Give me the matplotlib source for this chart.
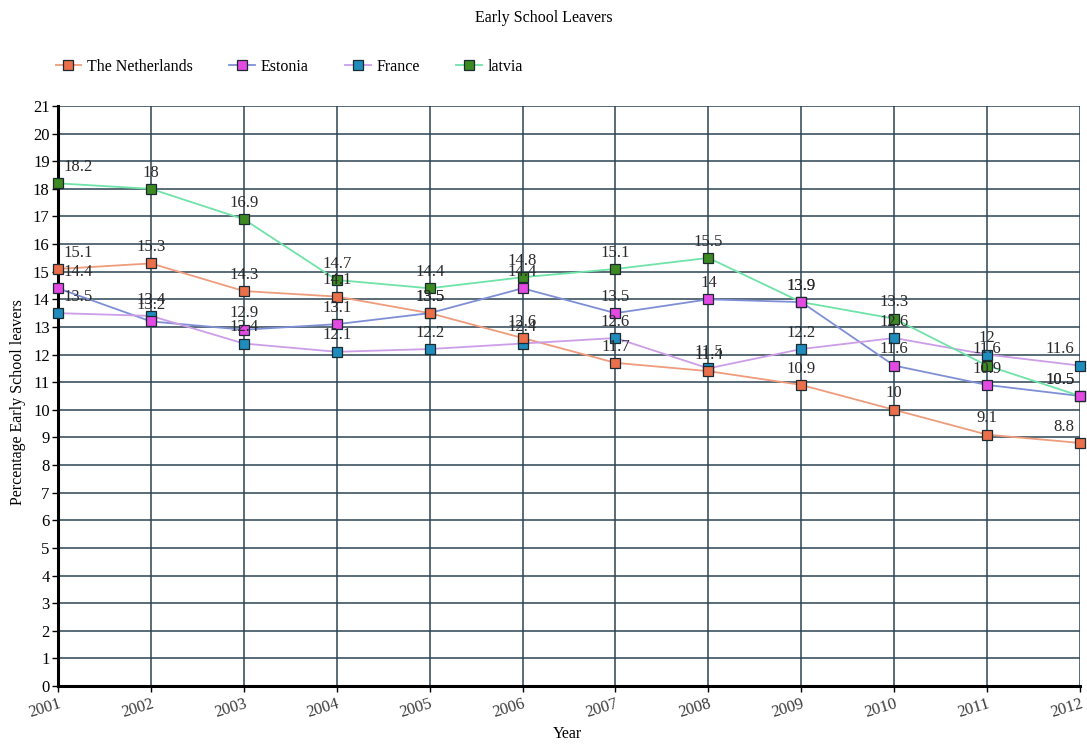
import matplotlib.pyplot as plt

years = [2001, 2002, 2003, 2004, 2005, 2006, 2007, 2008, 2009, 2010, 2011, 2012]
netherlands = [15.1, 15.3, 14.3, 14.1, 13.5, 12.6, 11.7, 11.4, 10.9, 10, 9.1, 8.8]
estonia = [14.4, 13.2, 12.9, 13.1, 13.5, 14.4, 13.5, 14, 13.9, 11.6, 10.9, 10.5]
france = [13.5, 13.4, 12.4, 12.1, 12.2, 12.4, 12.6, 11.5, 12.2, 12.6, 12, 11.6]
latvia = [18.2, 18, 16.9, 14.7, 14.4, 14.8, 15.1, 15.5, 13.9, 13.3, 11.6, 10.5]

# name, values, line colour, marker colour
series = [
    ('The Netherlands', netherlands, '#ee9c7c', '#e9704b'),
    ('Estonia', estonia, '#7f8fd6', '#e24ae2'),
    ('France', france, '#cc9ee8', '#1f8cbc'),
    ('latvia', latvia, '#6fe3a8', '#3d8a22'),
]

plt.rcParams['font.family'] = ['Liberation Serif', 'DejaVu Serif']

fig = plt.figure(figsize=(10.87, 7.44), dpi=100)
ax = fig.add_axes([0.0534, 0.078, 0.9402, 0.7795])

grid_col = '#2b4454'
for v in range(0, 22):
    ax.axhline(v, color=grid_col, lw=1.1, zorder=1)
for y in years:
    ax.axvline(y, color=grid_col, lw=1.1, zorder=1)

n = len(series)
for k, (name, vals, lc, mc) in enumerate(series):
    # later series sit underneath earlier ones
    z = 4 + (n - k) * 0.1
    ax.plot(years, vals, color=lc, lw=1.3, zorder=3, clip_on=False)
    ax.plot(years, vals, ls='none', marker='s', ms=7.5, mfc=mc, mec='#1a2a30',
            mew=0.9, zorder=z, clip_on=False)
    for i, (x, v) in enumerate(zip(years, vals)):
        ha = 'center'
        dx = 0
        if i == 0:
            ha, dx = 'left', 4
        elif i == len(years) - 1:
            ha, dx = 'right', -4
        ax.annotate(f'{v:g}', (x, v), xytext=(dx, 6), textcoords='offset points',
                    ha=ha, va='bottom', fontsize=12, color='#2a2a2a', zorder=6)

# legend handles drawn with the series' own colours
handles = []
for name, vals, lc, mc in series:
    h, = ax.plot([], [], color=lc, lw=1.3, marker='s', ms=7, mfc=mc, mec='#1a2a30',
                 mew=0.9, label=name)
    handles.append(h)
fig.legend(handles=handles, loc='upper left', bbox_to_anchor=(0.038, 0.94), ncol=4,
           frameon=False, fontsize=11.5, handlelength=1.6, handletextpad=0.35,
           columnspacing=2.3)

ax.set_xlim(2001, 2012)
ax.set_ylim(0, 21)
ax.set_xticks(years)
ax.set_xticklabels([str(y) for y in years], rotation=17, ha='right',
                   rotation_mode='anchor', fontsize=12, color='#3a3a3a')
ax.set_yticks(range(0, 22))
ax.tick_params(axis='y', labelsize=12, length=4, width=1, pad=2)
ax.tick_params(axis='x', length=4, width=1, pad=3)

for s in ('top', 'right'):
    ax.spines[s].set_visible(False)
ax.spines['left'].set_linewidth(2.2)
ax.spines['bottom'].set_linewidth(2.2)

fig.text(0.5, 0.976, 'Early School Leavers', ha='center', va='center', fontsize=11.5)
fig.text(0.017, 0.46, 'Percentage Early School leavers', rotation=90, ha='center',
         va='center', fontsize=11.5)
fig.text(0.522, 0.014, 'Year', ha='center', va='center', fontsize=11.5)

fig.savefig('out.png', dpi=100)
